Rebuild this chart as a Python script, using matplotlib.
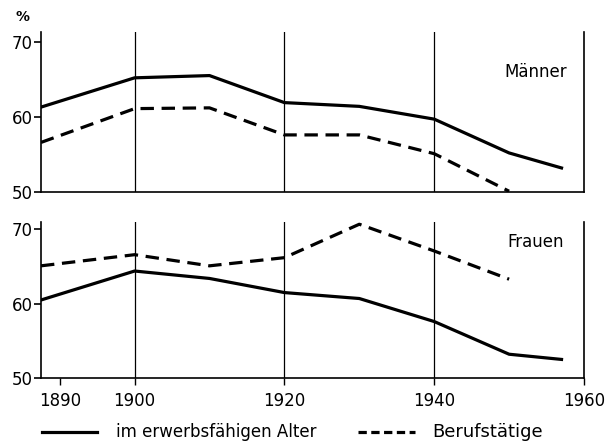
import matplotlib
matplotlib.use("Agg")
import matplotlib.pyplot as plt
from matplotlib.lines import Line2D

# Data
years_m = [1887.5, 1900, 1910, 1920, 1930, 1940, 1950, 1957]
maenner_alter = [61.3, 65.2, 65.5, 61.9, 61.4, 59.7, 55.2, 53.2]
years_mb = [1887.5, 1900, 1910, 1920, 1930, 1940, 1950]
maenner_beruf = [56.6, 61.1, 61.2, 57.6, 57.6, 55.1, 50.1]

years_f = [1887.5, 1900, 1910, 1920, 1930, 1940, 1950, 1957]
frauen_alter = [60.5, 64.4, 63.4, 61.5, 60.7, 57.6, 53.2, 52.5]
years_fb = [1887.5, 1900, 1910, 1920, 1930, 1940, 1950]
frauen_beruf = [65.1, 66.6, 65.1, 66.2, 70.7, 67.1, 63.3]

yticks = [50, 60, 70]
xticks = [1890, 1900, 1920, 1940, 1960]
vlines = [1900, 1920, 1940]
label_solid = "im erwerbsfähigen Alter"
label_dash = "Berufstätige"

plt.rcParams['font.family'] = ['DejaVu Sans']
W, H = 605, 443
fig = plt.figure(figsize=(W / 100, H / 100), dpi=100)

def box(x0, y0, x1, y1):
    return [x0 / W, 1 - y1 / H, (x1 - x0) / W, (y1 - y0) / H]

ax1 = fig.add_axes(box(41, 32, 584, 192))
ax2 = fig.add_axes(box(41, 222, 584, 378))

lw = 2.3
dash = (0, (4.2, 2.4))
for ax, xs, ya, xb, yb, top in [
    (ax1, years_m, maenner_alter, years_mb, maenner_beruf, 71.3),
    (ax2, years_f, frauen_alter, years_fb, frauen_beruf, 71.0),
]:
    ax.plot(xs, ya, color='black', lw=lw, solid_joinstyle='round', clip_on=True)
    ax.plot(xb, yb, color='black', lw=lw, linestyle=dash, clip_on=True)
    for v in vlines:
        ax.axvline(v, color='black', lw=0.9)
    ax.set_xlim(1887.5, 1960)
    ax.set_ylim(50, top)
    ax.spines['top'].set_visible(False)
    for s in ['left', 'bottom', 'right']:
        ax.spines[s].set_linewidth(1.2)
    ax.set_yticks(yticks)
    ax.set_yticklabels([str(t) for t in yticks], fontsize=12)
    ax.tick_params(axis='y', direction='out', length=5, width=1.2, pad=1)
    ax.set_facecolor('none')

ax1.set_xticks([])
ax2.set_xticks(xticks)
ax2.set_xticklabels([str(t) for t in xticks], fontsize=12)
ax2.tick_params(axis='x', direction='out', length=5, width=1.0, pad=5)

ax1.text(1953.5, 66.0, "Männer", fontsize=12, ha='center', va='center')
ax2.text(1953.5, 68.3, "Frauen", fontsize=12, ha='center', va='center')
fig.text(22 / W, 1 - 17 / H, "%", fontsize=10, ha='center', va='center', fontweight='bold')

# legend
fig.add_artist(Line2D([42 / W, 97 / W], [1 - 432 / H] * 2, color='black', lw=lw))
fig.text(116 / W, 1 - 432 / H, label_solid, fontsize=12, va='center', ha='left')
fig.add_artist(Line2D([358 / W, 415 / W], [1 - 432 / H] * 2, color='black', lw=lw,
                      linestyle=(0, (2.6, 1.4))))
fig.text(432 / W, 1 - 432 / H, label_dash, fontsize=13, va='center', ha='left')

fig.savefig("out.png", dpi=100)
